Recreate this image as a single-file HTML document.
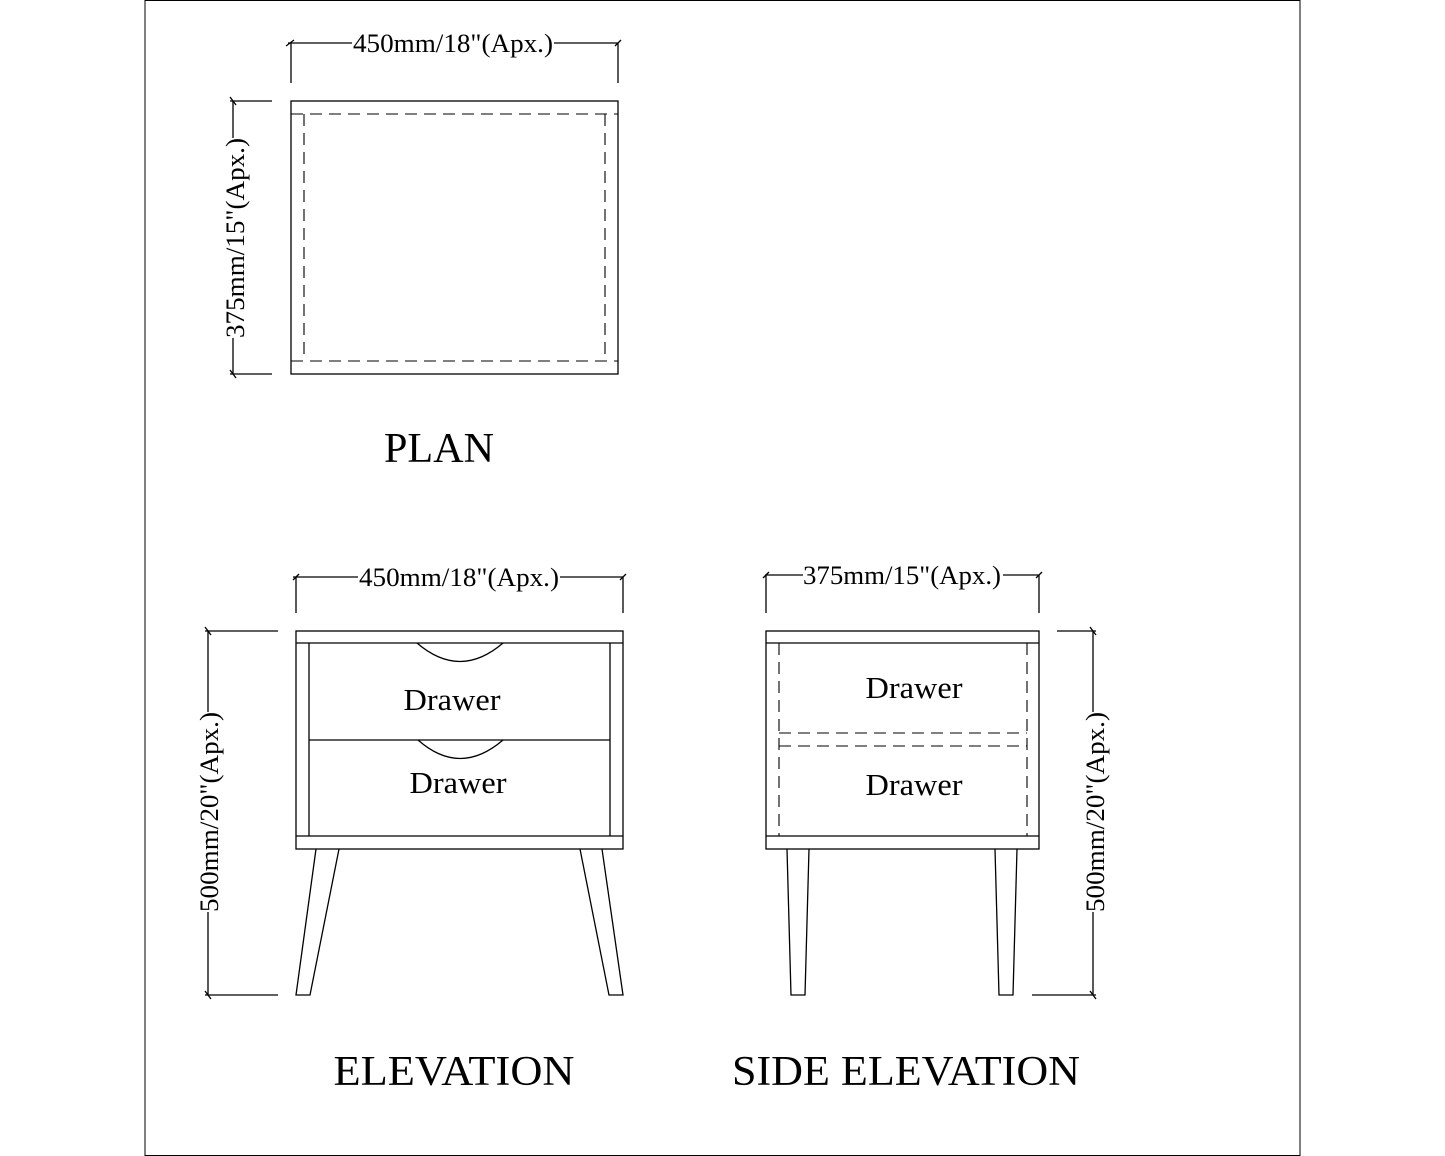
<!DOCTYPE html>
<html><head><style>body{margin:0;background:#fff}svg{display:block}</style></head><body>
<svg width="1445" height="1156" viewBox="0 0 1445 1156" xmlns="http://www.w3.org/2000/svg" font-family="Liberation Serif, serif" fill="none" stroke="#000" stroke-width="1.3">
<rect x="145" y="0.5" width="1155" height="1155" stroke-width="1"/>
<!-- PLAN -->
<rect x="291" y="101" width="327" height="273"/>
<g stroke-dasharray="12,7" stroke-width="1.1">
<line x1="291" y1="114" x2="618" y2="114"/><line x1="291" y1="361" x2="618" y2="361"/>
<line x1="304" y1="114" x2="304" y2="361"/><line x1="605" y1="114" x2="605" y2="361"/>
</g>
<line x1="288" y1="43" x2="618" y2="43"/><line x1="291" y1="43" x2="291" y2="83"/><line x1="618" y1="43" x2="618" y2="83"/>
<line x1="286" y1="46" x2="294" y2="40"/><line x1="615" y1="46" x2="621" y2="40"/>
<line x1="233" y1="101" x2="233" y2="374"/><line x1="230" y1="101" x2="272" y2="101"/><line x1="230" y1="374" x2="272" y2="374"/>
<line x1="230" y1="97" x2="236" y2="105"/><line x1="230" y1="370" x2="236" y2="378"/>
<g fill="#fff" stroke="none"><rect x="352" y="33" width="202" height="20"/><rect x="221" y="138" width="26" height="200"/></g>
<g fill="#000" stroke="none">
<text x="453" y="52" font-size="26" text-anchor="middle" textLength="200" lengthAdjust="spacingAndGlyphs">450mm/18"(Apx.)</text>
<text transform="translate(244,238) rotate(-90)" font-size="26" text-anchor="middle" textLength="200" lengthAdjust="spacingAndGlyphs">375mm/15"(Apx.)</text>
<text x="439" y="462" font-size="42" text-anchor="middle" textLength="110" lengthAdjust="spacingAndGlyphs">PLAN</text>
</g>
<!-- ELEVATION -->
<rect x="296" y="631" width="327" height="218"/>
<line x1="296" y1="643" x2="623" y2="643"/><line x1="296" y1="836" x2="623" y2="836"/>
<line x1="309" y1="643" x2="309" y2="836"/><line x1="610" y1="643" x2="610" y2="836"/>
<line x1="309" y1="740" x2="610" y2="740"/>
<path d="M417 643 Q460 680 503 643"/><path d="M418 740 Q460 777 503 740"/>
<path d="M316 849 L296 995 L310 995 L339 849"/>
<path d="M580 849 L609 995 L623 995 L602 849"/>
<line x1="293" y1="577" x2="623" y2="577"/><line x1="296" y1="577" x2="296" y2="613"/><line x1="623" y1="577" x2="623" y2="613"/>
<line x1="293" y1="580" x2="299" y2="574"/><line x1="620" y1="580" x2="626" y2="574"/>
<line x1="208" y1="631" x2="208" y2="995"/><line x1="205" y1="631" x2="278" y2="631"/><line x1="205" y1="995" x2="278" y2="995"/>
<line x1="205" y1="627" x2="211" y2="635"/><line x1="205" y1="991" x2="211" y2="999"/>
<g fill="#fff" stroke="none"><rect x="358" y="567" width="202" height="20"/><rect x="195" y="712" width="26" height="200"/></g>
<g fill="#000" stroke="none">
<text x="459" y="586" font-size="26" text-anchor="middle" textLength="200" lengthAdjust="spacingAndGlyphs">450mm/18"(Apx.)</text>
<text transform="translate(218,812) rotate(-90)" font-size="26" text-anchor="middle" textLength="200" lengthAdjust="spacingAndGlyphs">500mm/20"(Apx.)</text>
<text x="452" y="710" font-size="31" text-anchor="middle" textLength="97" lengthAdjust="spacingAndGlyphs">Drawer</text>
<text x="458" y="793" font-size="31" text-anchor="middle" textLength="97" lengthAdjust="spacingAndGlyphs">Drawer</text>
<text x="454" y="1085" font-size="42" text-anchor="middle" textLength="241" lengthAdjust="spacingAndGlyphs">ELEVATION</text>
</g>
<!-- SIDE ELEVATION -->
<rect x="766" y="631" width="273" height="218"/>
<line x1="766" y1="643" x2="1039" y2="643"/><line x1="766" y1="836" x2="1039" y2="836"/>
<g stroke-dasharray="12,7" stroke-width="1.1">
<line x1="779" y1="643" x2="779" y2="836"/><line x1="1027" y1="643" x2="1027" y2="836"/>
<line x1="779" y1="733" x2="1027" y2="733"/><line x1="779" y1="746" x2="1027" y2="746"/>
</g>
<path d="M787 849 L791 995 L805 995 L809 849"/>
<path d="M995 849 L999 995 L1013 995 L1017 849"/>
<line x1="765" y1="575" x2="1039" y2="575"/><line x1="766" y1="575" x2="766" y2="613"/><line x1="1039" y1="575" x2="1039" y2="613"/>
<line x1="763" y1="578" x2="769" y2="572"/><line x1="1036" y1="578" x2="1042" y2="572"/>
<line x1="1093" y1="631" x2="1093" y2="995"/><line x1="1057" y1="631" x2="1096" y2="631"/><line x1="1032" y1="995" x2="1096" y2="995"/>
<line x1="1090" y1="627" x2="1096" y2="635"/><line x1="1090" y1="991" x2="1096" y2="999"/>
<g fill="#fff" stroke="none"><rect x="803" y="565" width="200" height="20"/><rect x="1081" y="712" width="26" height="200"/></g>
<g fill="#000" stroke="none">
<text x="902" y="584" font-size="26" text-anchor="middle" textLength="198" lengthAdjust="spacingAndGlyphs">375mm/15"(Apx.)</text>
<text transform="translate(1104,812) rotate(-90)" font-size="26" text-anchor="middle" textLength="200" lengthAdjust="spacingAndGlyphs">500mm/20"(Apx.)</text>
<text x="914" y="698" font-size="31" text-anchor="middle" textLength="97" lengthAdjust="spacingAndGlyphs">Drawer</text>
<text x="914" y="795" font-size="31" text-anchor="middle" textLength="97" lengthAdjust="spacingAndGlyphs">Drawer</text>
<text x="906" y="1085" font-size="42" text-anchor="middle" textLength="348" lengthAdjust="spacingAndGlyphs">SIDE ELEVATION</text>
</g>
</svg>
</body></html>
